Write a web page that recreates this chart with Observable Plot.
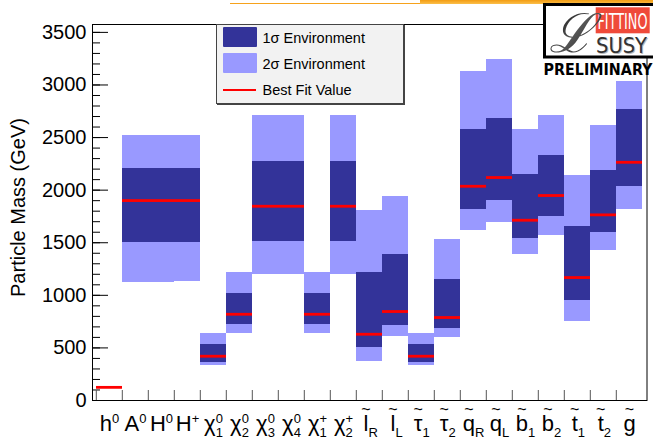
<!DOCTYPE html>
<html><head><meta charset="utf-8">
<script src="https://cdn.jsdelivr.net/npm/d3@7"></script>
<script src="https://cdn.jsdelivr.net/npm/@observablehq/plot@0.6"></script>
<style>
body{margin:0;background:#fff;}
#wrap{position:relative;width:653px;height:437px;overflow:hidden;font-family:"Liberation Sans",Arial,Helvetica,sans-serif;}
#wrap > svg{position:absolute;left:0;top:0;}
.ov{position:absolute;}
.lt{position:absolute;left:262.5px;font-size:14.5px;line-height:1;color:#000;white-space:nowrap;transform:translateY(-50%);}
</style></head><body><div id="wrap"></div>
<script>
// ---- data (GeV) ----
const categories = ["h0","A0","H0","H+","N1","N2","N3","N4","C1","C2","lR","lL","tau1","tau2","qR","qL","b1","b2","t1","t2","g"];
const labelBase  = ["h","A","H","H","χ","χ","χ","χ","χ","χ","l","l","τ","τ","q","q","b","b","t","t","g"];
const labelTilde = [false,false,false,false,false,false,false,false,false,false,true,true,true,true,true,true,true,true,true,true,true];
const labelSup   = ["0","0","0","+","0","0","0","0","+","+","","","","","","","","","","",""];
const labelSub   = ["","","","","1","2","3","4","1","2","R","L","1","2","R","L","1","2","1","2",""];
const bestFit    = [125,1901,1901,1901,421,820,1847,1847,820,1847,630,846,421,789,2037,2120,1714,1949,1169,1765,2265];
const sigma1Low  = [null,1498,1498,1505,364,725,1514,1514,725,1514,500,716,364,687,1818,1904,1543,1752,953,1594,2037];
const sigma1High = [null,2208,2208,2208,535,1020,2275,2275,1020,2275,1220,1391,535,1153,2579,2684,2151,2332,1657,2189,2769];
const sigma2Low  = [null,1118,1118,1128,329,640,1194,1194,640,1194,367,605,329,595,1619,1688,1384,1565,747,1429,1818];
const sigma2High = [null,2522,2522,2522,640,1220,2712,2712,1220,2712,1809,1942,637,1533,3130,3244,2579,2712,2142,2618,3035];
const yMajorTicks = [0,500,1000,1500,2000,2500,3000,3500];
const yMinorTicks = [0,100,200,300,400,500,600,700,800,900,1000,1100,1200,1300,1400,1500,1600,1700,1800,1900,2000,2100,2200,2300,2400,2500,2600,2700,2800,2900,3000,3100,3200,3300,3400,3500];
const yTitle = "Particle Mass (GeV)";
const legendLabels = ["1σ Environment","2σ Environment","Best Fit Value"];

const W = 653, H = 437, ML = 92, MR = 6.5, MT = 24, MB = 37;
const fw = W - ML - MR, fh = H - MT - MB, bw = fw / categories.length;
const FONT = "Liberation Sans, Arial, Helvetica, sans-serif";
const C1 = "#333399", C2 = "#9999ff", RED = "#ff0000";

const table = categories.map((c, i) => ({
  c, best: bestFit[i], lo1: sigma1Low[i], hi1: sigma1High[i], lo2: sigma2Low[i], hi2: sigma2High[i]
}));

const chart = Plot.plot({
  width: W, height: H, marginLeft: ML, marginRight: MR, marginTop: MT, marginBottom: MB,
  style: {fontFamily: FONT, background: "transparent", color: "#000", overflow: "visible"},
  x: {type: "band", domain: categories, padding: 0, axis: null},
  y: {domain: [0, 3575], axis: null},
  marks: [
    Plot.barY(table, {x: "c", y1: "lo2", y2: "hi2", fill: C2, shapeRendering: "crispEdges"}),
    Plot.barY(table, {x: "c", y1: "lo1", y2: "hi1", fill: C1, shapeRendering: "crispEdges"}),
    Plot.tickY(table, {x: "c", y: "best", stroke: RED, strokeWidth: 2.8}),
    Plot.tickY(yMinorTicks, {y: d => d, stroke: "#000", insetRight: fw - 8}),
    Plot.tickY(yMajorTicks, {y: d => d, stroke: "#000", insetRight: fw - 16}),
    Plot.tickX(categories, {x: d => d, dx: -bw / 2, stroke: "#555", insetTop: fh - 10}),
    Plot.axisY({ticks: yMajorTicks, tickSize: 0, tickPadding: 6, fontSize: 20, label: null, tickFormat: d => String(d)}),
    Plot.text(categories, {x: d => d, frameAnchor: "bottom", dy: 30, lineAnchor: "bottom", textAnchor: "middle", text: d => d, fontSize: 22}),
    Plot.text([yTitle], {frameAnchor: "left", text: d => d, textAnchor: "middle", rotate: -90, dx: -74, dy: -5, fontSize: 20}),
    Plot.frame({stroke: "#000", strokeWidth: 1})
  ]
});
const wrap = document.getElementById("wrap");
wrap.appendChild(chart);

// compose sub/superscripts and tildes on x labels
const ns = "http://www.w3.org/2000/svg";
function ts(parent, txt, attrs) {
  const t = document.createElementNS(ns, "tspan");
  t.textContent = txt;
  for (const k in attrs) t.setAttribute(k, attrs[k]);
  parent.appendChild(t);
  return t;
}
Array.from(chart.querySelectorAll("text")).forEach(t => {
  if (t.children.length) return;
  const i = categories.indexOf(t.textContent);
  if (i < 0) return;
  t.textContent = "";
  const base = ts(t, labelBase[i], {});
  const bW = base.getComputedTextLength();
  let back = 0;
  let pendingDx = 0;
  const sup = labelSup[i], sub = labelSub[i];
  if (labelTilde[i]) {
    const tl = ts(t, "~", {"font-size": 16});
    const tW = tl.getComputedTextLength();
    tl.setAttribute("dx", -(bW / 2 + tW / 2));
    tl.setAttribute("dy", -16);
    back = 16;
    pendingDx = bW / 2 - tW / 2;
  }
  if (sup) {
    const s = ts(t, sup, {"font-size": 13, dy: -7.5 + back, dx: pendingDx});
    if (sub) {
      const sW = s.getComputedTextLength();
      ts(t, sub, {"font-size": 13, dy: 13.5, dx: -sW});
    }
  } else if (sub) {
    ts(t, sub, {"font-size": 13, dy: 6 + back, dx: pendingDx});
  }
});

// ---- overlays: top bars, legend, logo ----
function div(css) { const d = document.createElement("div"); d.className = "ov"; d.style.cssText = css; wrap.appendChild(d); return d; }
div("left:230px;top:2.5px;width:200px;height:1.5px;background:#f6a21c;");
div("left:420px;top:0px;width:233px;height:4px;background:linear-gradient(#f39c12,#fbbf4a);");

// legend
div("left:216px;top:24px;width:186px;height:78px;background:#f2f2f2;border:1px solid #444;box-shadow:1px 1px 0 #444;");
div(`left:223px;top:27px;width:34px;height:20px;background:${C1};border-radius:1px;`);
div(`left:223px;top:53px;width:34px;height:20px;background:${C2};border-radius:1px;`);
div(`left:223px;top:89.3px;width:33px;height:1.6px;background:${RED};`);
[38, 63.5, 90].forEach((y, k) => {
  const d = document.createElement("div"); d.className = "lt"; d.style.top = y + "px"; d.textContent = legendLabels[k]; wrap.appendChild(d);
});

// logo
const logo = document.createElementNS(ns, "svg");
logo.setAttribute("width", 110); logo.setAttribute("height", 80);
logo.style.cssText = "position:absolute;left:543px;top:0px;";
logo.innerHTML = `
 <defs><linearGradient id="lg" x1="0" y1="0" x2="1" y2="1"><stop offset="0" stop-color="#000"/><stop offset="0.5" stop-color="#555"/><stop offset="1" stop-color="#111"/></linearGradient></defs>
 <rect x="1.5" y="4.5" width="120" height="52.5" fill="#fff" stroke="#000" stroke-width="3"/>
 <rect x="52.7" y="7.3" width="54" height="26" fill="#ef4a3a"/>
 <text x="54.5" y="28.5" font-family="Liberation Sans Narrow, DejaVu Sans Condensed, Liberation Sans, sans-serif" font-size="22" fill="#fff" textLength="50" lengthAdjust="spacingAndGlyphs">FITTINO</text>
 <text x="54" y="53.5" font-family="Liberation Sans Narrow, DejaVu Sans Condensed, Liberation Sans, sans-serif" font-size="21" fill="#bbb" textLength="51" lengthAdjust="spacingAndGlyphs">SUSY</text>
 <text x="53" y="52.5" font-family="Liberation Sans Narrow, DejaVu Sans Condensed, Liberation Sans, sans-serif" font-size="21" fill="#333" textLength="51" lengthAdjust="spacingAndGlyphs">SUSY</text>
 <text x="6" y="52" font-family="DejaVu Serif, Liberation Serif, serif" font-style="italic" font-size="54" fill="url(#lg)">ℒ</text>
 <text x="0.5" y="74.5" font-family="DejaVu Sans, Liberation Sans, sans-serif" font-weight="bold" font-size="15" fill="#000" textLength="109" lengthAdjust="spacingAndGlyphs">PRELIMINARY</text>`;
wrap.appendChild(logo);
</script></body></html>
